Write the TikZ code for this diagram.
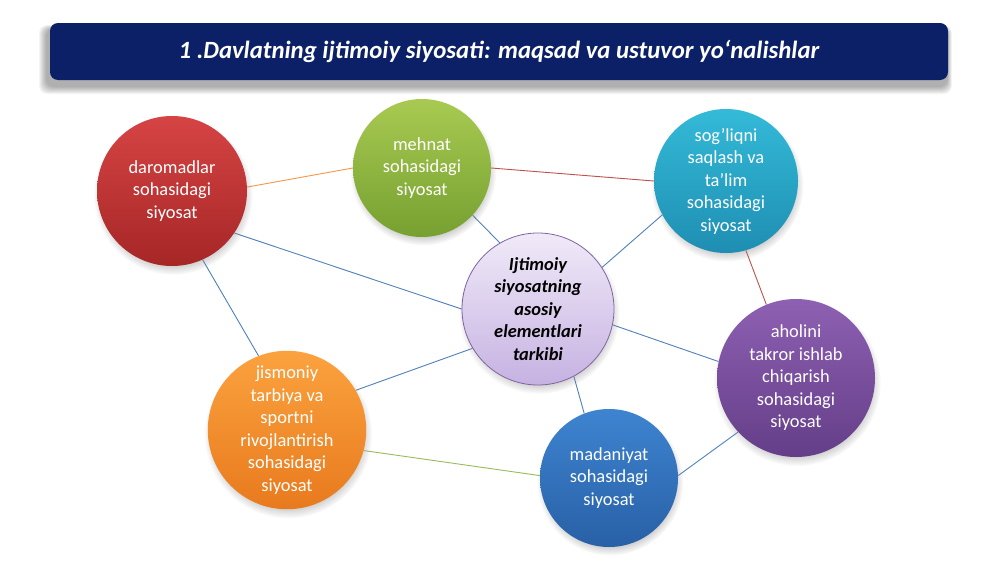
\documentclass[tikz,border=0pt]{standalone}
\usepackage{fontspec}
\setmainfont{Carlito}
\usetikzlibrary{shadows,backgrounds}
\definecolor{navy}{RGB}{11,32,102}
\definecolor{lnblue}{RGB}{79,129,189}
\definecolor{lnorange}{RGB}{247,150,70}
\definecolor{lnred}{RGB}{192,80,77}
\definecolor{lngreen}{RGB}{155,187,89}
\definecolor{redT}{RGB}{214,68,68}\definecolor{redB}{RGB}{166,38,38}
\definecolor{grnT}{RGB}{168,202,82}\definecolor{grnB}{RGB}{118,160,48}
\definecolor{tealT}{RGB}{52,186,216}\definecolor{tealB}{RGB}{30,142,178}
\definecolor{lavT}{RGB}{240,234,248}\definecolor{lavB}{RGB}{198,178,226}
\definecolor{lavD}{RGB}{128,100,162}
\definecolor{purT}{RGB}{142,96,178}\definecolor{purB}{RGB}{100,62,136}
\definecolor{orgT}{RGB}{251,162,62}\definecolor{orgB}{RGB}{232,122,30}
\definecolor{bluT}{RGB}{62,132,208}\definecolor{bluB}{RGB}{40,96,166}
\tikzset{
  ball/.style={circle, inner sep=0pt, align=center, text=white,
    font=\fontsize{18.4}{22.5}\selectfont,
    circular drop shadow={shadow xshift=1pt, shadow yshift=-4pt, shadow scale=1.06, opacity=0.45}},
  conn/.style={line width=0.9pt},
}
\begin{document}
\begin{tikzpicture}[x=1pt,y=-1pt]
\useasboundingbox (0,0) rectangle (1000,562);
% circles
\node[ball, minimum size=150pt, top color=redT, bottom color=redB] (red) at (172,191) {daromadlar\\sohasidagi\\siyosat};
\node[ball, minimum size=138pt, top color=grnT, bottom color=grnB] (green) at (422,168) {mehnat\\sohasidagi\\siyosat};
\node[ball, minimum size=144pt, top color=tealT, bottom color=tealB] (teal) at (726,181) {sog’liqni\\saqlash va\\ta’lim\\sohasidagi\\siyosat};
\node[ball, minimum size=152pt, top color=lavT, bottom color=lavB, draw=lavD, line width=0.8pt, text=black, font=\fontsize{18.4}{22.5}\selectfont\bfseries\itshape] (ijt) at (538,309) {Ijtimoiy\\siyosatning\\asosiy\\elementlari\\tarkibi};
\node[ball, minimum size=158pt, top color=purT, bottom color=purB] (purple) at (796,378) {aholini\\takror ishlab\\chiqarish\\sohasidagi\\siyosat};
\node[ball, minimum size=158pt, top color=orgT, bottom color=orgB] (orange) at (287,430) {jismoniy\\tarbiya va\\sportni\\rivojlantirish\\sohasidagi\\siyosat};
\node[ball, minimum size=138pt, top color=bluT, bottom color=bluB] (blue) at (609,478) {madaniyat\\sohasidagi\\siyosat};
% connectors
\begin{scope}[on background layer]
\fill[white] (0,0) rectangle (1000,562);
\draw[conn, lnorange] (red.3) -- (green.180);
\draw[conn, lnred] (green.0) -- (teal.180);
\draw[conn, lnblue] (green.-43) -- (ijt.120);
\draw[conn, lnblue] (teal.208) -- (ijt.33);
\draw[conn, lnred] (teal.-74) -- (purple.112);
\draw[conn, lnblue] (ijt.-12) -- (purple.168);
\draw[conn, lnblue] (red.-34) -- (ijt.180);
\draw[conn, lnblue] (red.-66) -- (orange.111);
\draw[conn, lnblue] (orange.30) -- (ijt.211);
\draw[conn, lngreen] (orange.-15) -- (blue.178);
\draw[conn, lnblue] (ijt.-62) -- (blue.111);
\draw[conn, lnblue] (blue.2) -- (purple.223);
\end{scope}
% title shadow
\foreach \i in {1,...,8}{
  \fill[black, opacity=0.045, rounded corners=8pt] (50-3-\i,23+6-\i*0.5) rectangle (948-1+\i*0.6,80+6+\i);
}
\node[rectangle, rounded corners=8pt, fill=navy, minimum width=898pt, minimum height=57pt, inner sep=0pt, text=white, font=\fontsize{24.8}{28}\selectfont\bfseries\itshape] (title) at (499,51.5) {1 .Davlatning ijtimoiy siyosati: maqsad va ustuvor yo‘nalishlar};
\end{tikzpicture}
\end{document}
